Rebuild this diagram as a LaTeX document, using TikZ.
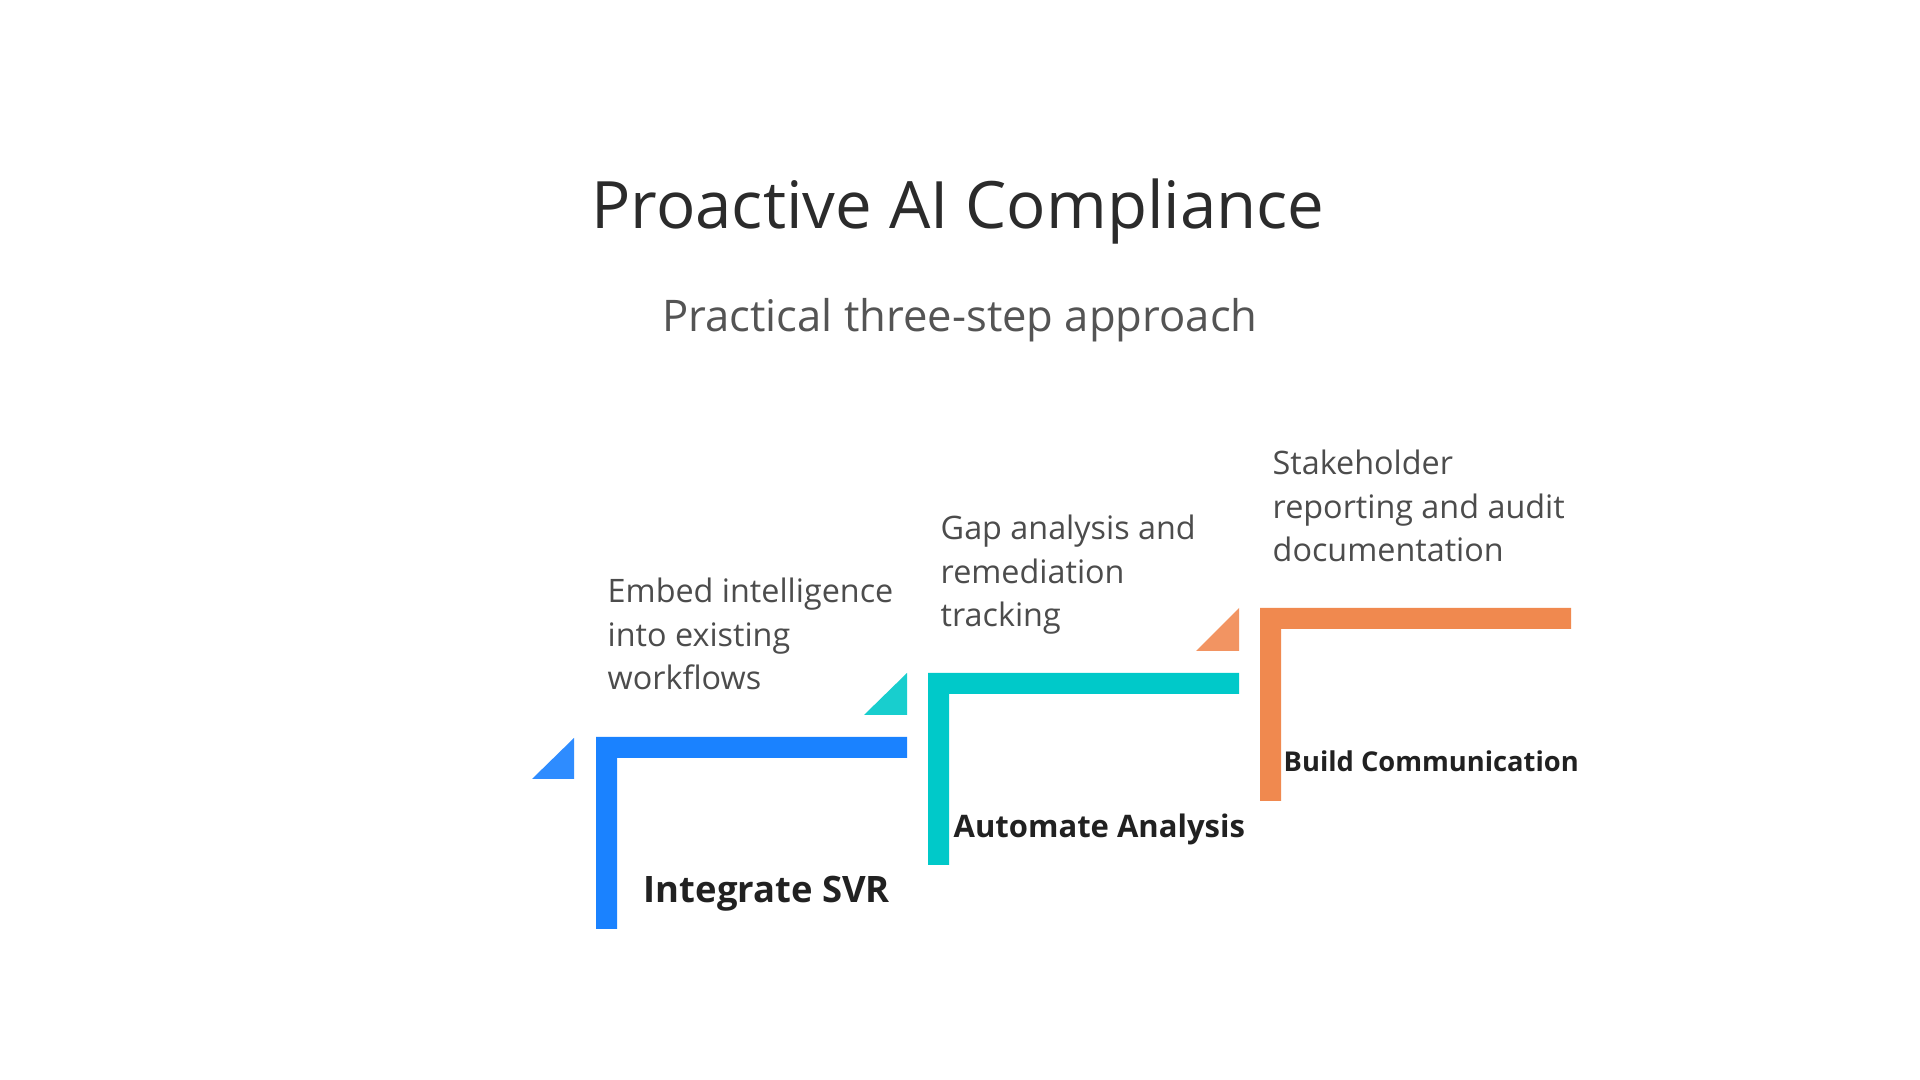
\documentclass[tikz,border=0pt]{standalone}
\usepackage{fontspec}
\setmainfont{Open Sans}
\usetikzlibrary{positioning}
\definecolor{barblue}{HTML}{1A82FF}
\definecolor{tipblue}{HTML}{2E8CFF}
\definecolor{barteal}{HTML}{00C9C9}
\definecolor{tipteal}{HTML}{18CECE}
\definecolor{barorange}{HTML}{F0894F}
\definecolor{tiporange}{HTML}{F29462}

\begin{document}
\begin{tikzpicture}[x=1cm,y=1cm]
\tikzset{
  titletext/.style={inner sep=0pt,anchor=base,text=black!83,font=\fontsize{18.6}{22}\selectfont},
  subtext/.style={inner sep=0pt,anchor=base,text=black!67,font=\fontsize{12.4}{15}\selectfont},
  desctext/.style={inner sep=0pt,anchor=base west,align=left,text=black!70,font=\fontsize{9.2}{12.5}\selectfont},
  steplabel/.style={inner sep=0pt,anchor=base west,text=black!87,font=\bfseries}
}
\useasboundingbox[fill=white] (0,0) rectangle (19.2,10.8);
\node[titletext] (n_title) at (9.58,8.51) {Proactive AI Compliance};
\node[subtext] (n_sub) at (9.60,7.48) {Practical three-step approach};
% step 1
\fill[tipblue] (5.32,3.01) -- (5.74,3.01) -- (5.74,3.42) -- cycle;
\fill[barblue] (5.96,3.43) -- (9.07,3.43) -- (9.07,3.22) -- (6.17,3.22) -- (6.17,1.51) -- (5.96,1.51) -- cycle;
\node[desctext] (n_d1) at (6.07,3.90) {Embed intelligence\\into existing\\workflows};
\node[steplabel,font=\fontsize{10.36}{12}\bfseries] (n_s1) at (6.43,1.77) {Integrate SVR};
% step 2
\fill[tipteal] (8.64,3.65) -- (9.07,3.65) -- (9.07,4.07) -- cycle;
\fill[barteal] (9.28,4.07) -- (12.39,4.07) -- (12.39,3.86) -- (9.49,3.86) -- (9.49,2.15) -- (9.28,2.15) -- cycle;
\node[desctext] (n_d2) at (9.40,4.53) {Gap analysis and\\remediation\\tracking};
\node[steplabel,font=\fontsize{8.82}{11}\bfseries] (n_s2) at (9.53,2.42) {Automate Analysis};
% step 3
\fill[tiporange] (11.96,4.29) -- (12.39,4.29) -- (12.39,4.72) -- cycle;
\fill[barorange] (12.60,4.72) -- (15.71,4.72) -- (15.71,4.51) -- (12.81,4.51) -- (12.81,2.79) -- (12.60,2.79) -- cycle;
\node[desctext] (n_d3) at (12.72,5.18) {Stakeholder\\reporting and audit\\documentation};
\node[steplabel,font=\fontsize{7.77}{10}\bfseries] (n_s3) at (12.83,3.08) {Build Communication};
\end{tikzpicture}
\end{document}
